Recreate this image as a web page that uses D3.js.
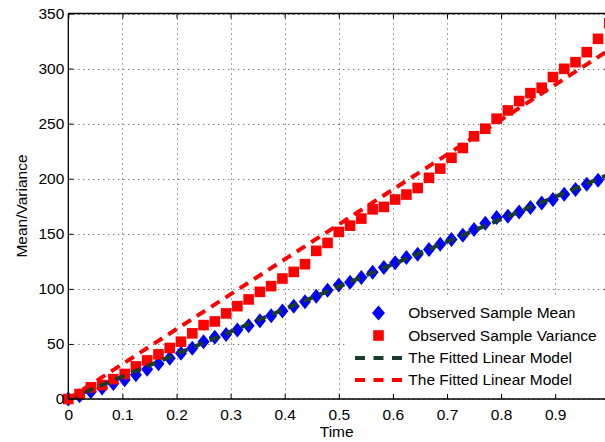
<!DOCTYPE html>
<html>
<head>
<meta charset="utf-8">
<script src="https://cdn.jsdelivr.net/npm/d3@7/dist/d3.min.js"></script>
<style>
  html, body { margin: 0; padding: 0; background: #fff; }
  svg { display: block; font-family: "Liberation Sans", Arial, Helvetica, sans-serif; }
</style>
</head>
<body>
<svg id="chart" width="605" height="442"></svg>
<script>
// ---- data ----
const time = [0, 0.0208, 0.0417, 0.0625, 0.0833, 0.1042, 0.125, 0.1458, 0.1667, 0.1875,
  0.2083, 0.2292, 0.25, 0.2708, 0.2917, 0.3125, 0.3333, 0.3542, 0.375, 0.3958,
  0.4167, 0.4375, 0.4583, 0.4792, 0.5, 0.5208, 0.5417, 0.5625, 0.5833, 0.6042,
  0.625, 0.6458, 0.6667, 0.6875, 0.7083, 0.7292, 0.75, 0.7708, 0.7917, 0.8125,
  0.8333, 0.8542, 0.875, 0.8958, 0.9167, 0.9375, 0.9583, 0.9792, 1];
const sampleMean = [0, 3, 6.5, 10, 14, 17.5, 22, 27, 32, 37,
  41.5, 46, 52, 56, 58.5, 62.6, 66.5, 71, 75.5, 80,
  84.3, 88.2, 93.4, 98.8, 103.4, 106, 110.3, 115, 119.4, 123.6,
  128.5, 131.5, 135.7, 140.5, 144.8, 148.7, 153.9, 159.5, 164.7, 166,
  169.8, 173.8, 178, 181.1, 185.9, 190.1, 194.9, 198.6, 203.1];
const sampleVariance = [0, 4.5, 10.6, 12.7, 18, 22.7, 29.6, 35, 40.5, 46.3,
  52, 59.6, 67.1, 70.4, 77.7, 84.3, 90.4, 97.3, 102.5, 109.4,
  115.4, 122.4, 134.5, 141.7, 151.7, 157.4, 163.8, 172.2, 174.4, 181.1,
  185.6, 191.6, 200.8, 209.2, 219, 227.9, 238.5, 245.4, 254.5, 262,
  270.5, 277.7, 282.6, 292.3, 299.8, 305.8, 314.9, 327, 341.2];
const fitTime = [0, 1];
const fitMean = [0, 204];
const fitVariance = [0, 317];
const xTicks = [0, 0.1, 0.2, 0.3, 0.4, 0.5, 0.6, 0.7, 0.8, 0.9];
const yTicks = [0, 50, 100, 150, 200, 250, 300, 350];
const legendLabels = ["Observed Sample Mean", "Observed Sample Variance", "The Fitted Linear Model", "The Fitted Linear Model"];

// ---- layout ----
const svg = d3.select("#chart");
const L = 68.3, R = 609.3, T = 13.5, B = 399;
const x = d3.scaleLinear().domain([0, 1]).range([L, R]);
const y = d3.scaleLinear().domain([0, 350]).range([B, T]);

const colBlue = "#0000ff", colRed = "#ff0000", colGreen = "#183d2a";
const fontSize = 15.5;

// grid
const grid = svg.append("g").attr("stroke", "#444").attr("stroke-width", 1).attr("stroke-dasharray", "1,4");
grid.selectAll(".gx").data(xTicks).join("line")
  .attr("x1", d => Math.round(x(d)) + 0.5).attr("x2", d => Math.round(x(d)) + 0.5)
  .attr("y1", T).attr("y2", B);
grid.selectAll(".gy").data(yTicks).join("line")
  .attr("y1", d => Math.round(y(d)) + 0.5).attr("y2", d => Math.round(y(d)) + 0.5)
  .attr("x1", L).attr("x2", R);

// markers
function diamond(hw, hh) {
  return `M0,${-hh}L${hw},0L0,${hh}L${-hw},0Z`;
}
const pts = time.map((t, i) => ({ t, m: sampleMean[i], v: sampleVariance[i] }));
svg.append("g").selectAll("path").data(pts).join("path")
  .attr("d", diamond(6, 7.5))
  .attr("transform", d => `translate(${x(d.t)},${y(d.m)})`)
  .attr("fill", colBlue);
svg.append("g").selectAll("rect").data(pts).join("rect")
  .attr("x", d => x(d.t) - 5.3).attr("y", d => y(d.v) - 5.3)
  .attr("width", 10.6).attr("height", 10.6)
  .attr("fill", colRed);

// fitted lines
const line = d3.line().x(d => x(d[0])).y(d => y(d[1]));
svg.append("path").datum(fitTime.map((t, i) => [t, fitMean[i]]))
  .attr("d", line).attr("fill", "none").attr("stroke", colGreen)
  .attr("stroke-width", 4).attr("stroke-dasharray", "10,7");
svg.append("path").datum(fitTime.map((t, i) => [t, fitVariance[i]]))
  .attr("d", line).attr("fill", "none").attr("stroke", colRed)
  .attr("stroke-width", 4).attr("stroke-dasharray", "10,7");

// axes
const axB = svg.append("g").attr("transform", `translate(0,${B})`)
  .call(d3.axisBottom(x).tickValues(xTicks).tickFormat(d3.format("~g")).tickSize(-5).tickPadding(10));
const axT = svg.append("g").attr("transform", `translate(0,${T})`)
  .call(d3.axisTop(x).tickValues(xTicks).tickFormat("").tickSize(-5));
const axLf = svg.append("g").attr("transform", `translate(${L},0)`)
  .call(d3.axisLeft(y).tickValues(yTicks).tickSize(-5).tickPadding(4));
const axRt = svg.append("g").attr("transform", `translate(${R},0)`)
  .call(d3.axisRight(y).tickValues(yTicks).tickFormat("").tickSize(-5));
[axB, axT, axLf, axRt].forEach(g => {
  g.select(".domain").attr("stroke", "#000").attr("stroke-width", 1.3);
  g.selectAll(".tick line").attr("stroke", "#000");
  g.selectAll(".tick text").attr("fill", "#000").attr("font-size", fontSize)
    .attr("font-family", "Liberation Sans, Arial, sans-serif");
});
axB.select(".domain").attr("d", `M${L},0H${R}`);
axT.select(".domain").attr("d", `M${L},0H${R}`);
axLf.select(".domain").attr("d", `M0,${B}V${T}`);
axRt.select(".domain").attr("d", `M0,${B}V${T}`);

// axis labels
svg.append("text").attr("x", 336.7).attr("y", 437).attr("text-anchor", "middle")
  .attr("font-size", fontSize).text("Time");
svg.append("text").attr("transform", "translate(26.5,206) rotate(-90)")
  .attr("text-anchor", "middle").attr("font-size", fontSize).text("Mean/Variance");

// legend
const lg = svg.append("g");
lg.append("rect").attr("x", 347).attr("y", 296).attr("width", 262).attr("height", 98).attr("fill", "#fff");
const rowsY = [313, 335.5, 358, 380];
lg.append("path").attr("d", diamond(6.5, 7.5)).attr("transform", `translate(378.5,${rowsY[0]})`).attr("fill", colBlue);
lg.append("rect").attr("x", 378.5 - 5.3).attr("y", rowsY[1] - 5.3).attr("width", 10.6).attr("height", 10.6).attr("fill", colRed);
lg.append("line").attr("x1", 355).attr("x2", 402).attr("y1", rowsY[2]).attr("y2", rowsY[2])
  .attr("stroke", colGreen).attr("stroke-width", 4).attr("stroke-dasharray", "10,8.5");
lg.append("line").attr("x1", 355).attr("x2", 402).attr("y1", rowsY[3]).attr("y2", rowsY[3])
  .attr("stroke", colRed).attr("stroke-width", 4).attr("stroke-dasharray", "10,8.5");
lg.selectAll("text").data(legendLabels).join("text")
  .attr("x", 408.3).attr("y", (d, i) => rowsY[i]).attr("dy", "0.35em")
  .attr("font-size", fontSize).text(d => d);
</script>
</body>
</html>
